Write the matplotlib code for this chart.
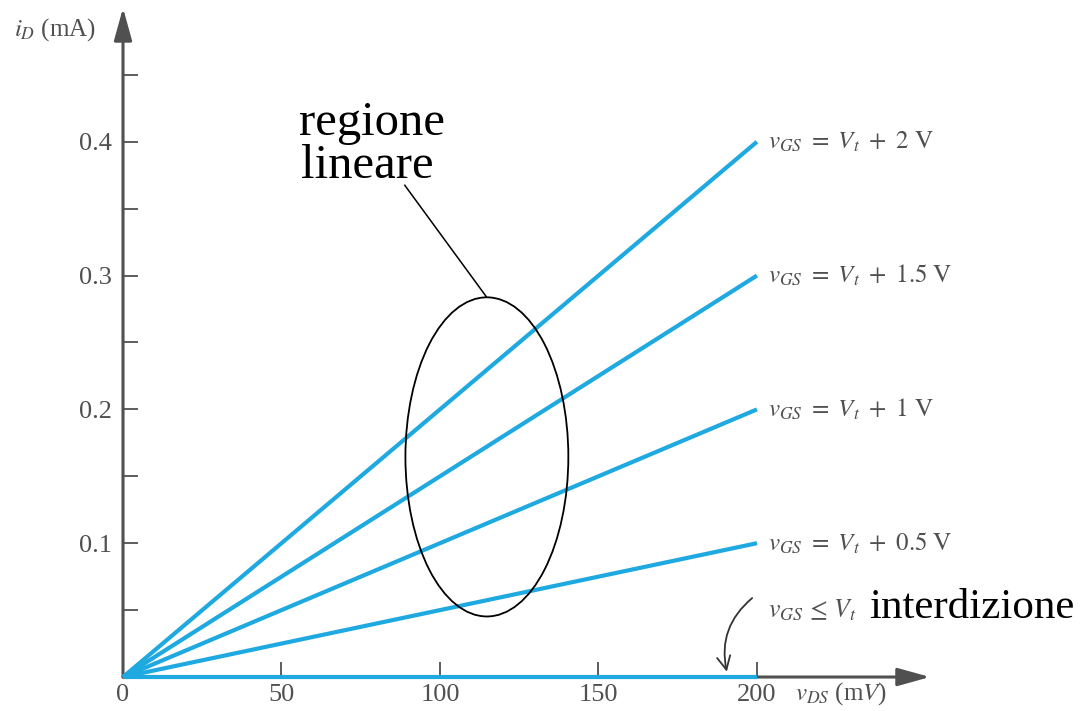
import matplotlib
matplotlib.use("Agg")
import matplotlib.pyplot as plt
from matplotlib.patches import Ellipse
from matplotlib.ticker import FixedLocator, NullFormatter

plt.rcParams["font.family"] = ["Liberation Serif", "DejaVu Serif"]
plt.rcParams["mathtext.fontset"] = "stix"

# Drain-current curves in the triode (linear) region
v_ds = [0, 200]                      # mV
overdrive_labels = ["2", "1.5", "1", "0.5"]
i_d_end = [0.4, 0.3, 0.2, 0.1]       # mA at v_DS = 200 mV
cutoff_current = [0.0, 0.0]          # v_GS <= V_t

x_ticks = [0, 50, 100, 150, 200]
y_major = [0.1, 0.2, 0.3, 0.4]
y_minor = [0.05, 0.15, 0.25, 0.35, 0.45]

BLUE = "#1EA9E1"
GRAY = "#505050"

fig = plt.figure(figsize=(10.8, 7.11), dpi=100)
ax = fig.add_axes([0.1139, 0.0478, 0.7472, 0.941])
ax.set_xlim(0, 254.6)
ax.set_ylim(0, 0.5)

for s in ax.spines.values():
    s.set_visible(False)

# axes drawn as arrows
arrow_kw = dict(arrowstyle="-|>,head_length=0.9,head_width=0.25", color=GRAY,
                lw=2.2, shrinkA=0, shrinkB=0, mutation_scale=22)
ax.annotate("", xy=(1, 0), xytext=(0, 0), xycoords="axes fraction",
            arrowprops=arrow_kw, zorder=2)
ax.annotate("", xy=(0, 1), xytext=(0, 0), xycoords="axes fraction",
            arrowprops=arrow_kw, zorder=2)

ax.set_xticks(x_ticks)
ax.set_xticklabels([str(v) for v in x_ticks])
ax.yaxis.set_major_locator(FixedLocator(y_major))
ax.set_yticklabels([f"{v:.1f}" for v in y_major])
ax.yaxis.set_minor_locator(FixedLocator(y_minor))
ax.yaxis.set_minor_formatter(NullFormatter())
ax.tick_params(axis="both", which="both", direction="in", length=11,
               width=1.3, color=GRAY, labelcolor=GRAY, labelsize=19)
ax.tick_params(axis="y", which="major", pad=8)
ax.tick_params(axis="x", which="major", pad=5)

# curves
for lab, iend in zip(overdrive_labels, i_d_end):
    ax.plot(v_ds, [0, iend], color=BLUE, lw=3.0, solid_capstyle="butt",
            zorder=4, clip_on=False)
    ax.text(203.5, iend, rf"$v_{{GS}}\ =\ V_t\ +\ {lab}\ \mathrm{{V}}$",
            fontsize=18, color=GRAY, va="center", ha="left")
ax.plot(v_ds, cutoff_current, color=BLUE, lw=3.0, solid_capstyle="butt",
        zorder=4, clip_on=False)

# axis titles
ax.text(-34.5, 0.484, r"$i_D$ (mA)", fontsize=18, color=GRAY,
        va="center", ha="left")
ax.text(212.0, -0.0125, r"$v_{DS}$ (m$V$)", fontsize=18, color=GRAY,
        va="center", ha="left")

# linear-region annotation
ax.add_patch(Ellipse((114.8, 0.1645), 51.4, 0.2385, fill=False,
                     edgecolor="black", lw=1.3, zorder=5))
ax.plot([88.9, 114.6], [0.3675, 0.2843], color="black", lw=1.1, zorder=5)
ax.text(55.6, 0.405, "regione", fontsize=35, color="black",
        va="baseline", ha="left")
ax.text(56.2, 0.373, "lineare", fontsize=35, color="black",
        va="baseline", ha="left")

# cut-off annotation
ax.text(203.5, 0.0445, r"$v_{GS}\,\leq\,V_t$", fontsize=18.5, color=GRAY,
        va="baseline", ha="left")
ax.text(235.5, 0.0440, "interdizione", fontsize=31, color="black",
        va="baseline", ha="left")
ax.annotate("", xy=(190.5, 0.004), xytext=(198.5, 0.059),
            arrowprops=dict(arrowstyle="->,head_length=0.6,head_width=0.3",
                            color="#333333", lw=1.3,
                            connectionstyle="arc3,rad=0.3",
                            mutation_scale=16, shrinkA=0, shrinkB=0),
            zorder=6)

fig.savefig("out.png", dpi=100, facecolor="white")
